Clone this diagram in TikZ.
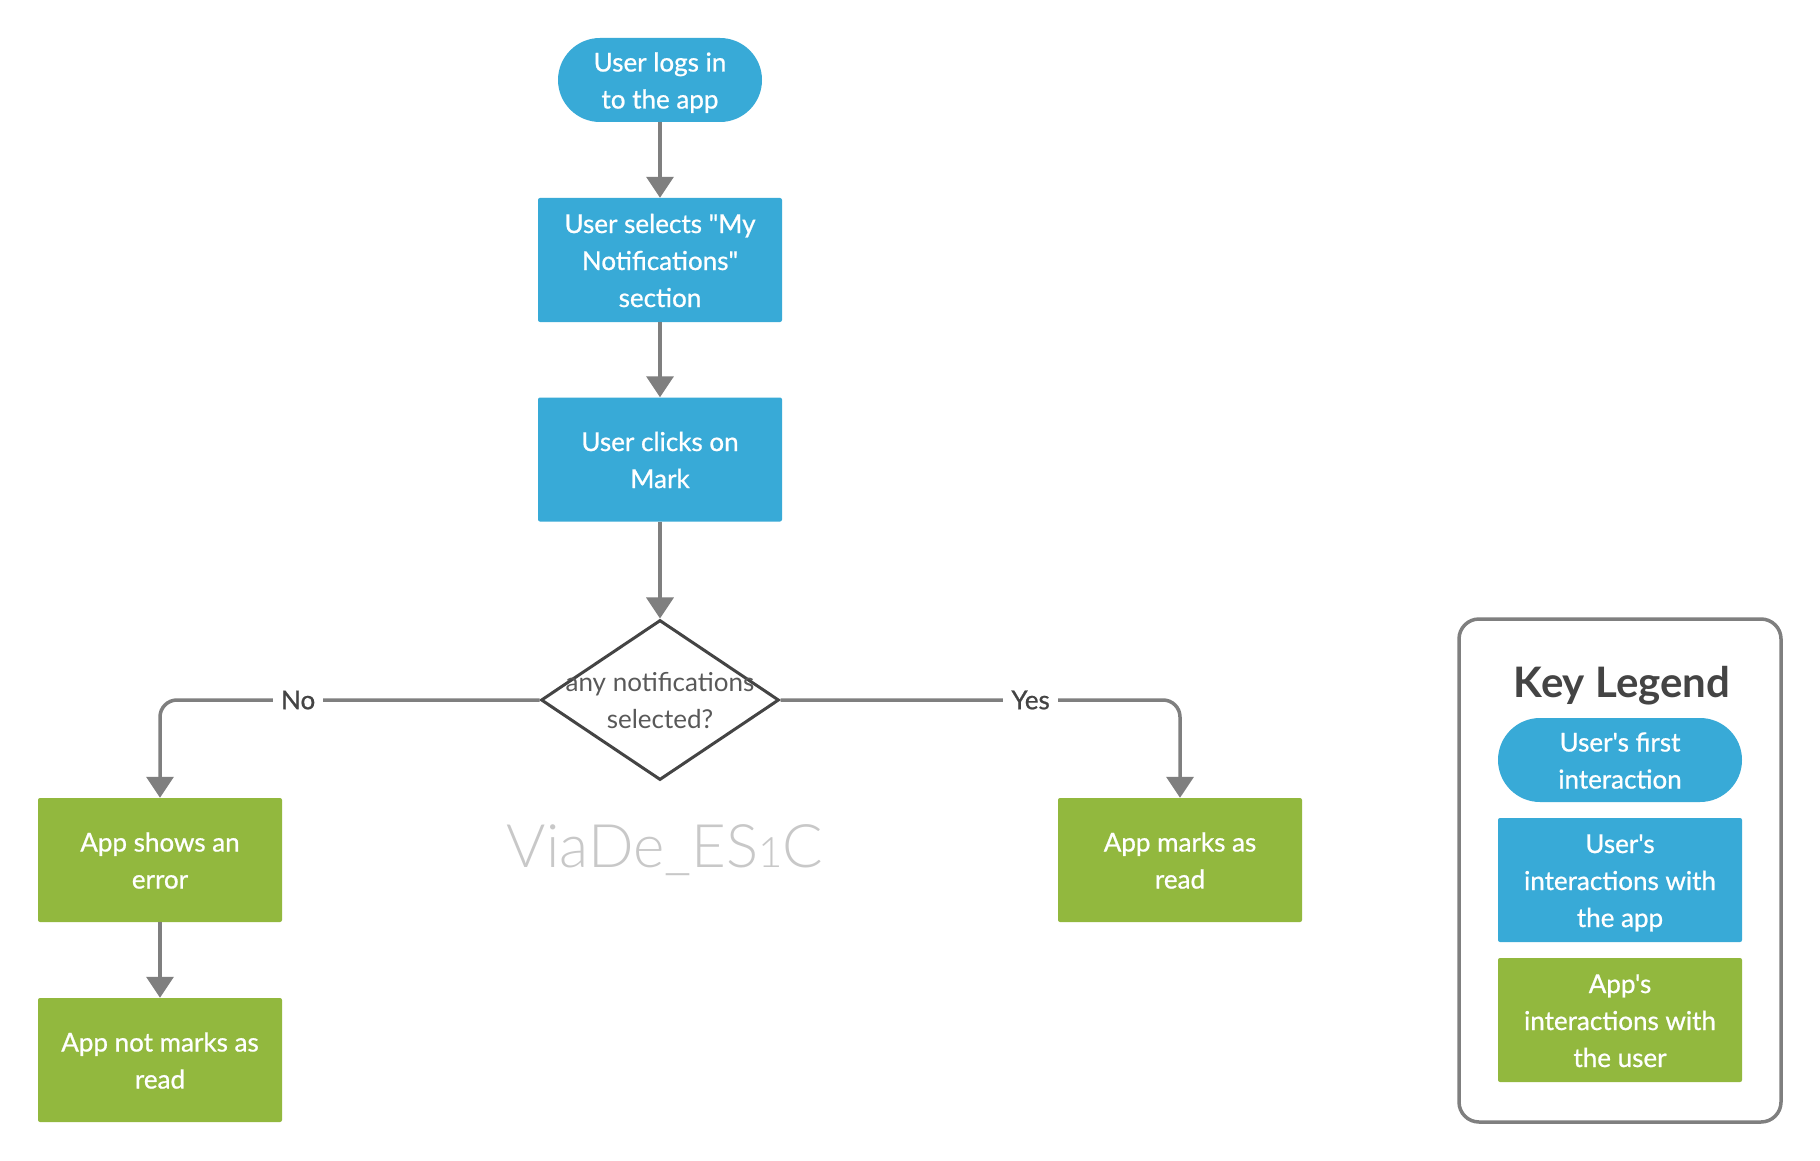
\documentclass[tikz,border=0pt]{standalone}
\usepackage{fontspec}
\newfontfamily\lato{Lato}[FakeBold=0.8]
\newfontfamily\latoplain{Lato}
\newfontfamily\latolight{Lato Light}
\usetikzlibrary{shapes.geometric,arrows.meta}
\definecolor{ublue}{HTML}{38AAD7}
\definecolor{agreen}{HTML}{92B83E}
\definecolor{lgray}{HTML}{7F7F7F}
\definecolor{dgray}{HTML}{444444}
\definecolor{tgray}{HTML}{595959}
\definecolor{wmgray}{HTML}{C8C8C8}
\newcommand{\ms}{\rule[-8.5pt]{0pt}{37pt}}
\begin{document}
\begin{tikzpicture}[x=1pt,y=-1pt,
 base/.style={font=\lato\fontsize{26}{37}\selectfont, align=center, text=white, inner sep=0pt},
 term/.style={base, fill=ublue, minimum width=204pt, minimum height=84pt, rounded corners=42pt},
 ubox/.style={base, fill=ublue, minimum width=244pt, minimum height=124pt, rounded corners=2pt},
 abox/.style={ubox, fill=agreen},
 arr/.style={draw=lgray, line width=3.5pt, -{Triangle[width=27pt,length=21pt]}},
 lab/.style={font=\lato\fontsize{26}{30}\selectfont, text=dgray, fill=white, inner xsep=8pt, inner ysep=3pt, sharp corners}
]
\useasboundingbox[fill=white] (0,0) rectangle (1820,1161);

% flow nodes
\node[term] (start) at (660,80) {\ms User logs in\\to the app\ms};
\node[ubox] (sel) at (660,260) {\ms User selects "My\\Notifications"\\section\ms};
\node[ubox] (click) at (660,459.5) {\ms User clicks on\\Mark\ms};
\node[diamond, draw=dgray, line width=3pt, minimum width=238pt, minimum height=160pt, inner sep=0pt] (dec) at (660,700) {};
\node[base, font=\latoplain\fontsize{26}{37}\selectfont, text=tgray] (dect) at (660,700) {\ms any notifications\\selected?\ms};
\node[abox] (err) at (160,860) {\ms App shows an\\error\ms};
\node[abox] (notm) at (160,1060) {\ms App not marks as\\read\ms};
\node[abox] (marks) at (1180,860) {\ms App marks as\\read\ms};

% watermark
\node[font=\latolight\fontsize{60}{60}\selectfont, text=wmgray, inner sep=0pt, anchor=base] (wm) at (665,867) {ViaDe\_ES{\fontsize{42}{42}\selectfont 1}C};

% connectors
\draw[arr] (start) -- (sel);
\draw[arr] (sel) -- (click);
\draw[arr] (click) -- (dec);
\draw[arr, rounded corners=17pt] (dec.west) -| node[lab, pos=0.318] (no) {No} (err.north);
\draw[arr] (err) -- (notm);
\draw[arr, rounded corners=17pt] (dec.east) -| node[lab, pos=0.313] (yes) {Yes} (marks.north);

% legend
\node[draw=lgray, line width=3.5pt, rounded corners=20pt, minimum width=322pt, minimum height=503pt, inner sep=0pt] (legend) at (1620,870.5) {};
\node[font=\latoplain\bfseries\fontsize{42}{42}\selectfont, text=dgray, inner sep=0pt, anchor=base] (keyt) at (1622,697) {Key Legend};
\node[term, minimum width=244pt] (l1) at (1620,760) {\ms User's first\\interaction\ms};
\node[ubox] (l2) at (1620,880) {\ms User's\\interactions with\\the app\ms};
\node[abox] (l3) at (1620,1020) {\ms App's\\interactions with\\the user\ms};
\end{tikzpicture}
\end{document}
